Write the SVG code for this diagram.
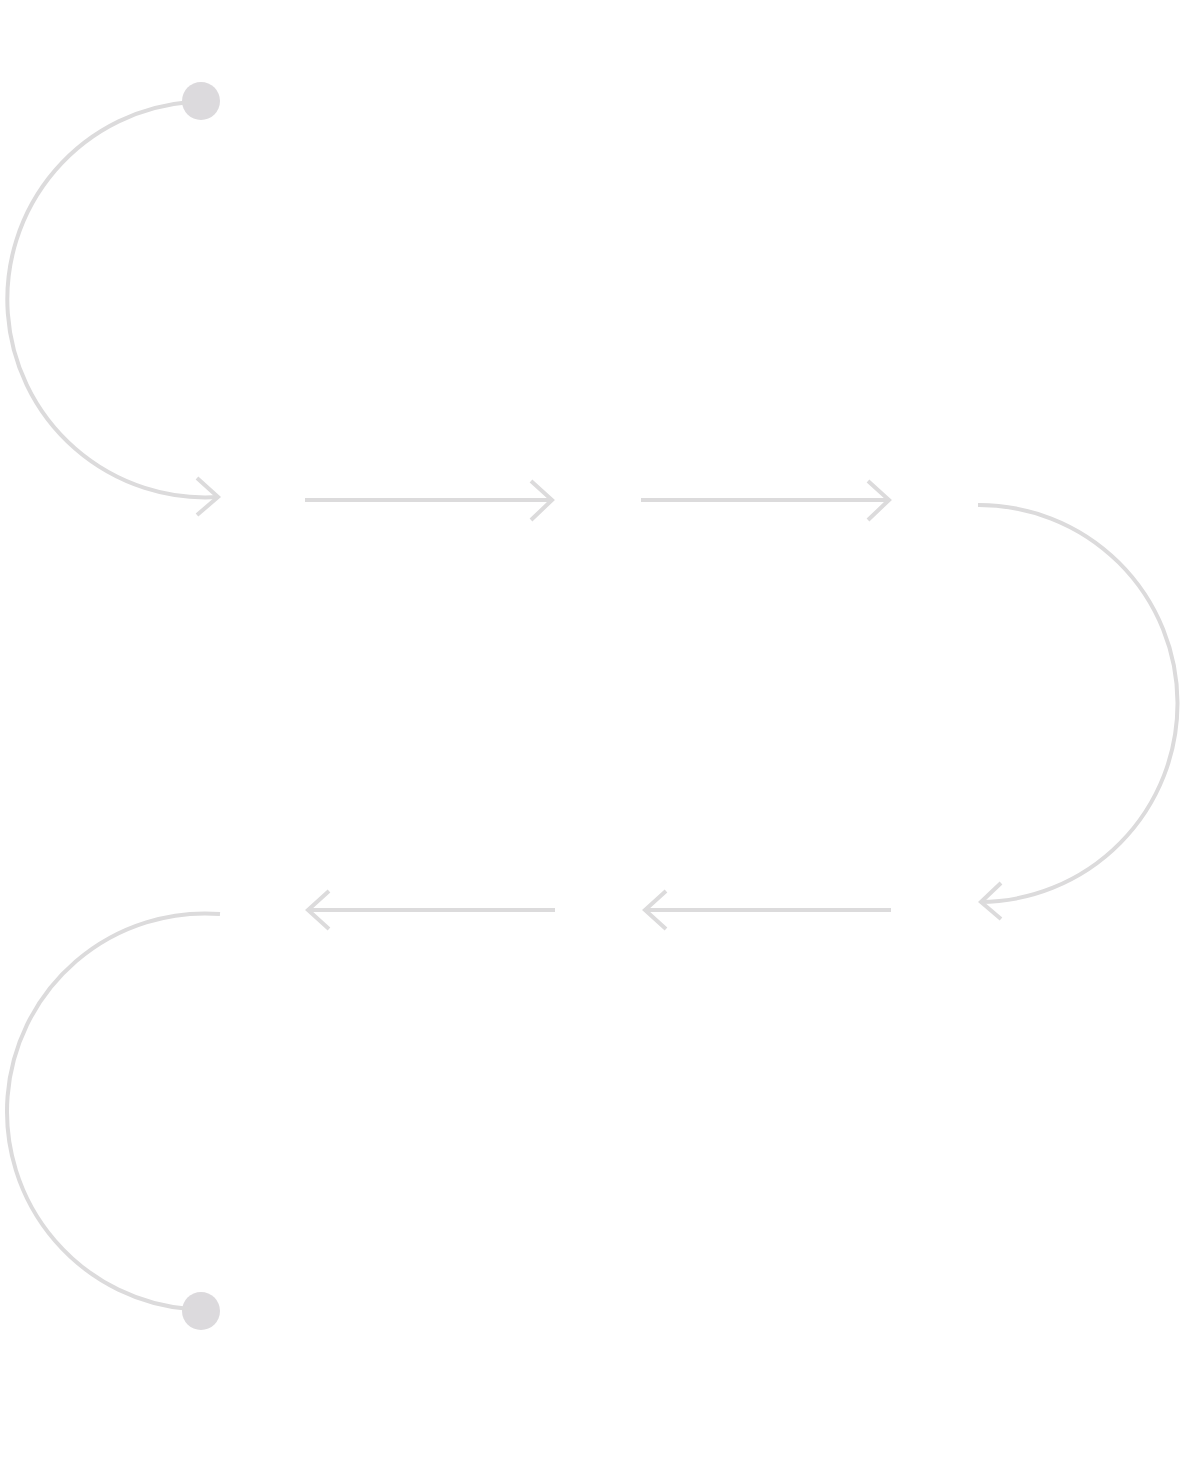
<svg xmlns="http://www.w3.org/2000/svg" width="1200" height="1463" viewBox="0 0 1200 1463">
<style>
.c{fill:none;stroke:#dcdbdc;stroke-width:4}
.d{fill:#dcdadd}
</style>
<rect width="1200" height="1463" fill="#fff"/>
<g id="start"><circle class="d" cx="201" cy="101" r="19"/></g>
<g id="end"><circle class="d" cx="201" cy="1311" r="19"/></g>
<g id="connectors">
<path class="c" d="M190 102 A198 198 0 0 0 218 497"/>
<path class="c" d="M197 478 L218 497 L197 515"/>
<path class="c" d="M305 500 H552 M531 481 L552 500 L531 520"/>
<path class="c" d="M641 500 H889 M868 481 L889 500 L868 520"/>
<path class="c" d="M978 505 A198 198 0 0 1 980 902"/>
<path class="c" d="M1001 883 L981 902 L1001 919"/>
<path class="c" d="M555 910 H308 M329 891 L308 910 L329 929"/>
<path class="c" d="M891 910 H645 M666 891 L645 910 L666 929"/>
<path class="c" d="M220 914 A198 198 0 0 0 190 1309"/>
</g>
</svg>
